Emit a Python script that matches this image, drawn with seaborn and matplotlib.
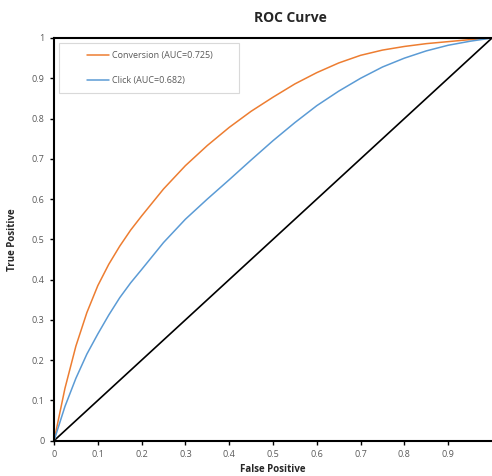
import pandas as pd
import numpy as np
import matplotlib
matplotlib.use('Agg')
import matplotlib.pyplot as plt
import seaborn as sns
from matplotlib.legend_handler import HandlerLine2D

fpr = [0, 0.025, 0.05, 0.075, 0.1, 0.125, 0.15, 0.175, 0.2, 0.25, 0.3, 0.35, 0.4, 0.45,
       0.5, 0.55, 0.6, 0.65, 0.7, 0.75, 0.8, 0.85, 0.9, 0.95, 1.0]
tpr_conversion = [0, 0.13, 0.235, 0.318, 0.385, 0.438, 0.483, 0.523, 0.558, 0.625, 0.683,
                  0.733, 0.778, 0.818, 0.853, 0.886, 0.914, 0.938, 0.957, 0.970, 0.979,
                  0.986, 0.991, 0.996, 1.0]
tpr_click = [0, 0.085, 0.155, 0.215, 0.265, 0.312, 0.355, 0.392, 0.425, 0.492, 0.55,
             0.60, 0.648, 0.697, 0.745, 0.79, 0.832, 0.868, 0.90, 0.928, 0.95,
             0.968, 0.982, 0.992, 1.0]
series_names = ['Conversion (AUC=0.725)', 'Click (AUC=0.682)']
series_colors = ['#ED7D31', '#5B9BD5']
diag = [0, 1]
xtick_vals = [0, 0.1, 0.2, 0.3, 0.4, 0.5, 0.6, 0.7, 0.8, 0.9]
ytick_vals = [0, 0.1, 0.2, 0.3, 0.4, 0.5, 0.6, 0.7, 0.8, 0.9, 1.0]

df = pd.DataFrame({
    'fpr': fpr * 2,
    'tpr': tpr_conversion + tpr_click,
    'series': [series_names[0]] * len(fpr) + [series_names[1]] * len(fpr),
})


# excel-style legend: short line sitting at the right end of the handle area
class ShortLine(HandlerLine2D):
    def get_xdata(self, legend, xdescent, ydescent, width, height, fontsize):
        x = np.array([-xdescent + width * 0.48, -xdescent + width])
        return x, x


sns.set_style('white')
plt.rcParams['font.family'] = ['Open Sans', 'DejaVu Sans']

fig = plt.figure(figsize=(4.92, 4.76), dpi=100)
ax = fig.add_axes([54 / 492, 1 - 440.7 / 476, (492 - 54) / 492, (440.7 - 38) / 476])

ax.plot(diag, diag, color='black', lw=1.2, zorder=1)
sns.lineplot(data=df, x='fpr', y='tpr', hue='series', palette=series_colors,
             hue_order=series_names, lw=1.1, ax=ax, zorder=2)

ax.set_xlim(0, 1)
ax.set_ylim(0, 1)
ax.set_xticks(xtick_vals)
ax.set_xticklabels([f'{v:g}' for v in xtick_vals])
ax.set_yticks(ytick_vals)
ax.set_yticklabels([f'{v:g}' for v in ytick_vals])
ax.tick_params(axis='both', labelsize=6.5, colors='black', labelcolor='#595959',
               length=3, width=1, direction='out', bottom=True, left=True, pad=4)
for side in ['left', 'bottom', 'top']:
    ax.spines[side].set_color('black')
    ax.spines[side].set_linewidth(1.5)
ax.spines['right'].set_visible(False)

ax.set_xlabel('False Positive', fontsize=7, fontweight='bold', labelpad=3)
ax.set_ylabel('True Positive', fontsize=7, fontweight='bold', labelpad=10)
fig.text(290 / 492, 1 - 18 / 476, 'ROC Curve', ha='center', va='center',
         fontsize=10, fontweight='bold')

handles, labels = ax.get_legend_handles_labels()
leg = ax.legend(handles, labels, loc='upper left',
                bbox_to_anchor=(5 / 438, 0.868, 180 / 438, 0.12), mode='expand',
                fontsize=6.5, frameon=True, fancybox=False, handlelength=4.65,
                handletextpad=0.3, borderpad=0.9, labelspacing=1.8, borderaxespad=0,
                handler_map={plt.Line2D: ShortLine()})
leg.get_frame().set_edgecolor('#d0d0d0')
leg.get_frame().set_linewidth(0.8)
for t in leg.get_texts():
    t.set_color('#595959')

fig.savefig('out.png', dpi=100)
